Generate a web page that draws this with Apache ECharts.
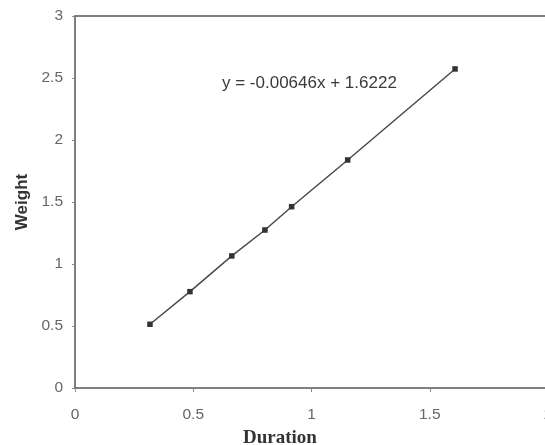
<!DOCTYPE html>
<html>
<head>
<meta charset="utf-8">
<script src="https://cdn.jsdelivr.net/npm/echarts@6/dist/echarts.min.js"></script>
<style>
  html, body { margin: 0; padding: 0; background: #fff; overflow: hidden; }
  /* the plot frame runs slightly past the right edge of the page */
  #chart { width: 565px; height: 445px; }
</style>
</head>
<body>
<div id="chart"></div>
<script>
// Weight measured against duration
const duration = [0.317, 0.486, 0.663, 0.803, 0.916, 1.153, 1.607];
const weight   = [0.514, 0.777, 1.065, 1.274, 1.462, 1.839, 2.573];
const xTicks = { min: 0, max: 2, step: 0.5 };
const yTicks = { min: 0, max: 3, step: 0.5 };
const equationText = 'y = -0.00646x + 1.6222';
const xTitle = 'Duration';
const yTitle = 'Weight';

const points = duration.map((d, i) => [d, weight[i]]);

const chart = echarts.init(document.getElementById('chart'), null, { renderer: 'canvas' });

const labelStyle = { color: '#666', fontFamily: 'Liberation Sans, Arial, sans-serif', fontSize: 15.5 };

chart.setOption({
  animation: false,
  backgroundColor: '#fff',
  grid: { left: 75, top: 16, width: 473, height: 372 },
  xAxis: [{
    type: 'value',
    min: xTicks.min, max: xTicks.max, interval: xTicks.step,
    axisLine: { show: true, onZero: false, lineStyle: { color: '#555', width: 1.5 } },
    axisTick: { show: true, length: 4, lineStyle: { color: '#888' } },
    axisLabel: Object.assign({ margin: 19, showMaxLabel: true }, labelStyle),
    splitLine: { show: false }
  }, {
    type: 'value', position: 'top',
    min: xTicks.min, max: xTicks.max,
    axisLine: { show: true, onZero: false, lineStyle: { color: '#555', width: 1.5 } },
    axisTick: { show: false }, axisLabel: { show: false }, splitLine: { show: false }
  }],
  yAxis: [{
    type: 'value',
    min: yTicks.min, max: yTicks.max, interval: yTicks.step,
    name: yTitle,
    nameLocation: 'middle',
    nameGap: 44,
    nameTextStyle: { color: '#333', fontFamily: 'Liberation Sans, Arial, sans-serif', fontSize: 17, fontWeight: 'bold' },
    axisLine: { show: true, onZero: false, lineStyle: { color: '#555', width: 1.5 } },
    axisTick: { show: true, length: 3, lineStyle: { color: '#888' } },
    axisLabel: Object.assign({ margin: 12 }, labelStyle),
    splitLine: { show: false }
  }, {
    type: 'value', position: 'right',
    min: yTicks.min, max: yTicks.max,
    axisLine: { show: true, onZero: false, lineStyle: { color: '#555', width: 1.5 } },
    axisTick: { show: false }, axisLabel: { show: false }, splitLine: { show: false }
  }],
  graphic: [{
    type: 'text', left: 222, top: 75,
    style: { text: equationText, fill: '#3a3a3a', font: '17px "Liberation Sans", Arial, sans-serif' }
  }, {
    type: 'text', left: 243, top: 429,
    style: { text: xTitle, fill: '#333', font: 'bold 19px "Liberation Serif", "Times New Roman", serif' }
  }],
  series: [{
    type: 'line',
    data: points,
    symbol: 'rect',
    symbolSize: 5.5,
    showAllSymbol: true,
    lineStyle: { color: '#4a4a4a', width: 1.5 },
    itemStyle: { color: '#333' }
  }]
});
</script>
</body>
</html>
